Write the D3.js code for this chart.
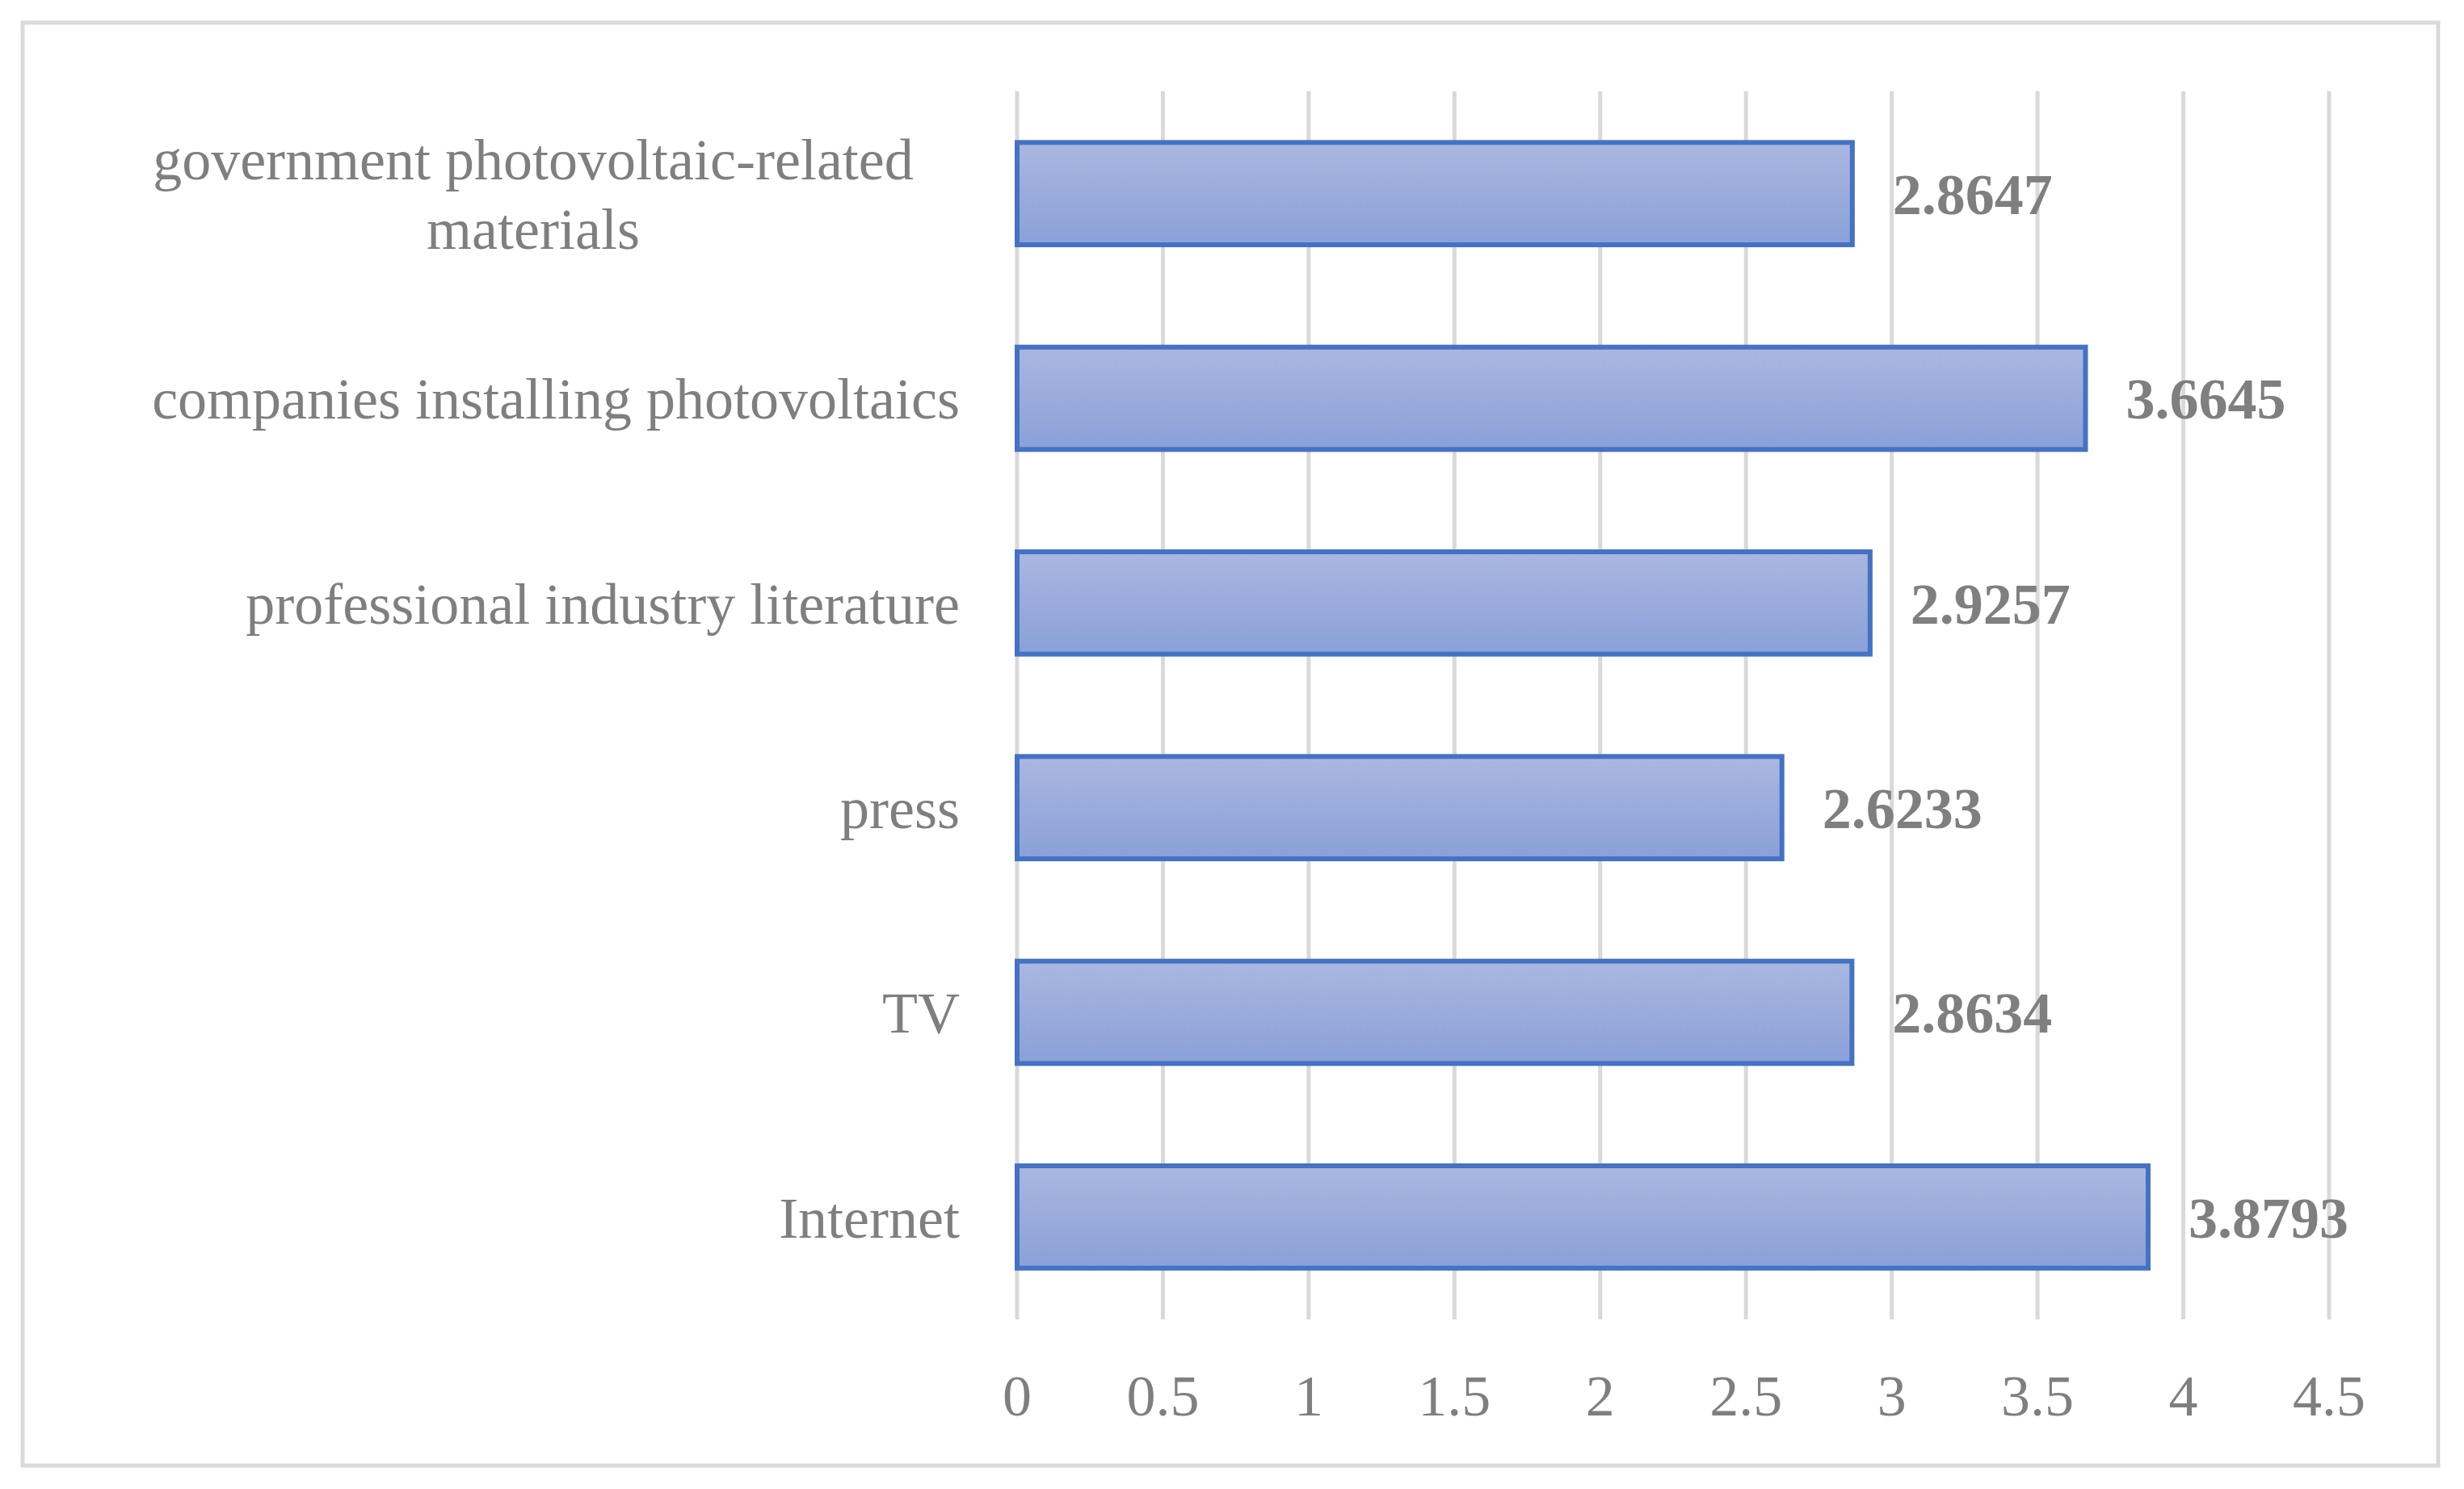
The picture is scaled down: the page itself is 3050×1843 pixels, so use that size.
<!DOCTYPE html>
<html><head><meta charset="utf-8">
<script src="https://cdn.jsdelivr.net/npm/d3@7"></script>
<style>
body { margin: 0; background: #fff; }
text { font-family: "Liberation Serif", "DejaVu Serif", serif; fill: #7f7f7f; }
</style></head>
<body><div id="chart"></div>
<script>
// categories top to bottom
const categories = [
  ["government photovoltaic-related", "materials"],
  ["companies installing photovoltaics"],
  ["professional industry literature"],
  ["press"],
  ["TV"],
  ["Internet"]
];
const values = [2.8647, 3.6645, 2.9257, 2.6233, 2.8634, 3.8793];
const xTicks = [0, 0.5, 1, 1.5, 2, 2.5, 3, 3.5, 4, 4.5];

const W = 3050, H = 1843;
const svg = d3.select("#chart").append("svg").attr("width", W).attr("height", H);

const grad = svg.append("defs").append("linearGradient")
  .attr("id", "barGrad").attr("x1", 0).attr("y1", 0).attr("x2", 0).attr("y2", 1);
grad.append("stop").attr("offset", "0%").attr("stop-color", "#aab7e0");
grad.append("stop").attr("offset", "100%").attr("stop-color", "#8aa0d8");

// outer frame
svg.append("rect").attr("x", 28).attr("y", 28).attr("width", 2990).attr("height", 1786)
  .attr("fill", "#fff").attr("stroke", "#d9d9d9").attr("stroke-width", 5);

const x = d3.scaleLinear().domain([0, 4.5]).range([1259, 2883]);
const y = d3.scaleBand().domain(d3.range(categories.length)).range([113, 1633]).paddingInner(0.5).paddingOuter(0.25);

// gridlines
svg.selectAll(".grid").data(xTicks).enter().append("line")
  .attr("x1", d => x(d)).attr("x2", d => x(d))
  .attr("y1", 113).attr("y2", 1633)
  .attr("stroke", "#d9d9d9").attr("stroke-width", 5);

// tick labels
svg.selectAll(".tick").data(xTicks).enter().append("text")
  .attr("x", d => x(d)).attr("y", 1752)
  .attr("text-anchor", "middle").attr("font-size", 72)
  .text(d => d);

// bars
svg.selectAll(".bar").data(values).enter().append("rect")
  .attr("x", x(0)).attr("y", (d, i) => y(i))
  .attr("width", d => x(d) - x(0)).attr("height", y.bandwidth())
  .attr("fill", "url(#barGrad)").attr("stroke", "#4472c4").attr("stroke-width", 6);

// value labels
svg.selectAll(".val").data(values).enter().append("text")
  .attr("x", d => x(d) + 50).attr("y", (d, i) => y(i) + y.bandwidth() / 2)
  .attr("dy", "0.35em").attr("font-size", 72).attr("font-weight", "bold")
  .text(d => d.toFixed(4));

// category labels
const cat = svg.selectAll(".cat").data(categories).enter().append("text")
  .attr("text-anchor", "middle")
  .attr("font-size", 72);
cat.each(function (lines, i) {
  const t = d3.select(this);
  const cy = y(i) + y.bandwidth() / 2;
  const lh = 86;
  lines.forEach((ln, j) => {
    const single = lines.length === 1;
    t.append("tspan")
      .attr("x", single ? 1188 : 660)
      .attr("text-anchor", single ? "end" : "middle")
      .attr("y", cy + (j - (lines.length - 1) / 2) * lh)
      .attr("dy", "0.35em")
      .text(ln);
  });
});
</script></body></html>
